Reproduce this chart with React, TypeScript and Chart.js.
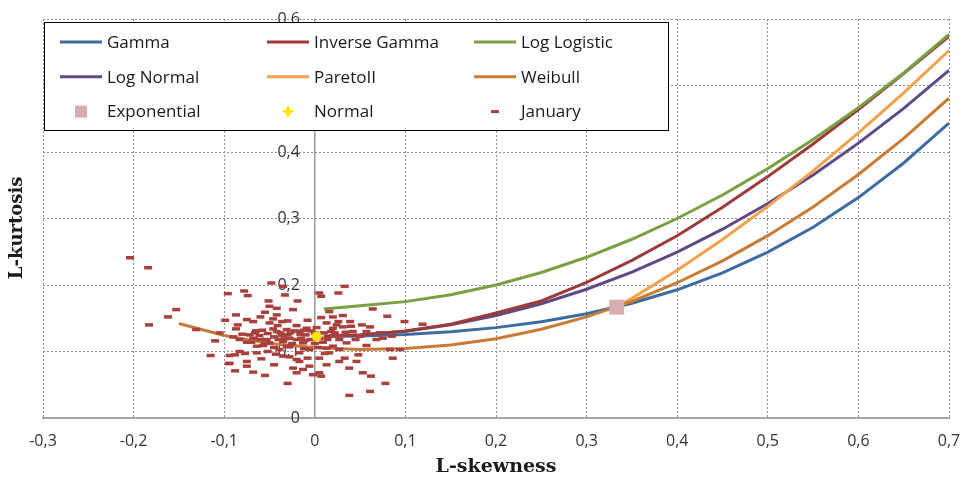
import React, { useEffect, useRef } from 'react';
import { Chart, registerables } from 'chart.js';

Chart.register(...registerables);

// ---------- data ----------
const X_TICK_LABELS = ['-0,3', '-0,2', '-0,1', '0', '0,1', '0,2', '0,3', '0,4', '0,5', '0,6', '0,7'];
const Y_TICK_LABELS = ['0', '0,1', '0,2', '0,3', '0,4', '0,5', '0,6'];

const CURVE_T3 = [0.01, 0.05, 0.1, 0.15, 0.2, 0.25, 0.3, 0.35, 0.4, 0.45, 0.5, 0.55, 0.6, 0.65, 0.7];
const GAMMA_T4 = [0.1225, 0.1232, 0.1255, 0.1297, 0.1359, 0.1448, 0.1567, 0.1726, 0.1928, 0.2182, 0.2494, 0.2869, 0.3314, 0.3835, 0.4436];
const INV_GAMMA_T4 = [0.1227, 0.125, 0.131, 0.141, 0.158, 0.176, 0.204, 0.237, 0.274, 0.317, 0.363, 0.412, 0.464, 0.518, 0.574];
const LOG_LOGISTIC_T4 = [0.164, 0.1688, 0.175, 0.1854, 0.2, 0.2188, 0.2417, 0.2688, 0.3, 0.3354, 0.375, 0.4188, 0.4667, 0.5188, 0.577];
const LOG_NORMAL_T4 = [0.1229, 0.1248, 0.1306, 0.1403, 0.154, 0.1718, 0.1936, 0.2194, 0.2495, 0.2839, 0.3226, 0.3655, 0.4133, 0.4656, 0.5227];

const PARETO_T3 = [0.3333, 0.35, 0.4, 0.45, 0.5, 0.55, 0.6, 0.65, 0.7];
const PARETO_T4 = [0.1667, 0.1799, 0.2222, 0.2683, 0.3182, 0.3716, 0.4286, 0.4889, 0.5526];

const WEIBULL_T3 = [-0.15, -0.1, -0.05, 0, 0.05, 0.1, 0.15, 0.2, 0.25, 0.3, 0.35, 0.4, 0.45, 0.5, 0.55, 0.6, 0.65, 0.7];
const WEIBULL_T4 = [0.142, 0.124, 0.112, 0.106, 0.103, 0.1045, 0.1097, 0.1193, 0.1334, 0.1521, 0.1754, 0.2034, 0.2363, 0.2742, 0.3174, 0.3661, 0.4204, 0.4809];

const EXPONENTIAL_T3 = [0.3333];
const EXPONENTIAL_T4 = [0.1667];
const NORMAL_T3 = [0.002];
const NORMAL_T4 = [0.1226];

const JANUARY_T3 = [
  -0.204, -0.184, -0.153, -0.162, -0.183, -0.131, -0.115,
  -0.096, -0.078, -0.074, -0.099, -0.087, -0.087, -0.085, -0.075, -0.068,
  -0.088, -0.094, -0.088, -0.075, -0.068, -0.055, -0.059, -0.075, -0.083,
  -0.083, -0.068, -0.061, -0.053, -0.064, -0.057, -0.05,
  -0.051, -0.05, -0.055, -0.042, -0.048, -0.035, -0.033, -0.019, -0.024,
  -0.036, -0.05, -0.042, -0.031, -0.02, -0.017, -0.009,
  -0.028, -0.02, -0.013, -0.031, -0.039, -0.017, -0.006,
  -0.028, -0.017, -0.008, -0.024, -0.013, -0.02, -0.006, -0.002, -0.03,
  0.007, 0.005, 0.013, 0.005, 0.016,
  0.005, 0.007, 0.026, 0.033, 0.016, 0.031, 0.026, 0.039, 0.013, 0.02, 0.031, 0.042, 0.061, 0.05, 0.02, 0.027, 0.035, 0.02, 0.027, 0.013, 0.027, 0.038, 0.048, 0.046, 0.057, 0.053, 0.062, 0.061, 0.038,
  0.064, 0.08, 0.099, 0.119, 0.078, 0.086, 0.085, 0.075, 0.094, 0.083,
  -0.045, -0.04, -0.035, -0.03, -0.025, -0.015, -0.01, -0.005, 0, -0.055, -0.06, -0.07, 0.005, 0.01, -0.012, -0.038, 0, 0.022, -0.028, -0.045, -0.075, -0.077, -0.094, -0.095, -0.065, 0.057, -0.042,
  -0.072, -0.066, -0.058, -0.052, -0.046, -0.041, -0.036, -0.033, -0.027, -0.022, -0.016, -0.011, -0.004, 0.002, 0.009, 0.014, 0.018, 0.024, 0.029, 0.034,
  0.04, 0.045, 0.052, -0.064, -0.052, -0.043, -0.035, -0.012, 0.004, 0.011, -0.08, -0.09, -0.105, -0.11, -0.046, -0.03, -0.008, 0.007, 0.02, -0.06,
  0.068, 0.072, 0.033, -0.02, -0.045
];
const JANUARY_T4 = [
  0.241, 0.226, 0.163, 0.152, 0.14, 0.133, 0.094,
  0.187, 0.191, 0.184, 0.147, 0.155, 0.134, 0.14, 0.148, 0.145,
  0.095, 0.082, 0.071, 0.078, 0.069, 0.064, 0.089, 0.085, 0.1,
  0.118, 0.12, 0.124, 0.118, 0.108, 0.109, 0.113,
  0.176, 0.168, 0.159, 0.165, 0.203, 0.198, 0.185, 0.176, 0.163,
  0.145, 0.143, 0.13, 0.133, 0.139, 0.13, 0.135,
  0.12, 0.118, 0.113, 0.108, 0.103, 0.098, 0.103,
  0.092, 0.085, 0.09, 0.075, 0.073, 0.068, 0.078, 0.065, 0.052,
  0.063, 0.068, 0.08, 0.09, 0.098,
  0.188, 0.183, 0.188, 0.198, 0.16, 0.154, 0.145, 0.145, 0.143, 0.135, 0.137, 0.13, 0.137, 0.123, 0.123, 0.118, 0.113, 0.108, 0.103, 0.105, 0.085, 0.075, 0.095, 0.085, 0.109, 0.068, 0.063, 0.04, 0.034,
  0.164, 0.153, 0.145, 0.141, 0.052, 0.09, 0.123, 0.12, 0.103, 0.103,
  0.122, 0.118, 0.115, 0.125, 0.112, 0.12, 0.125, 0.118, 0.112, 0.112, 0.118, 0.114, 0.12, 0.128, 0.132, 0.128, 0.128, 0.128, 0.107, 0.106, 0.114, 0.097, 0.094, 0.082, 0.131, 0.13, 0.155,
  0.125, 0.128, 0.132, 0.127, 0.134, 0.139, 0.124, 0.119, 0.128, 0.131, 0.126, 0.116, 0.131, 0.136, 0.114, 0.118, 0.13, 0.14, 0.124, 0.129,
  0.138, 0.118, 0.14, 0.098, 0.1, 0.096, 0.093, 0.104, 0.106, 0.097, 0.126, 0.122, 0.128, 0.116, 0.149, 0.146, 0.147, 0.151, 0.152, 0.152,
  0.118, 0.128, 0.09, 0.088, 0.08
];

const LEGEND_ORDER = ['Gamma', 'Inverse Gamma', 'Log Logistic', 'Log Normal', 'ParetoII', 'Weibull', 'Exponential', 'Normal', 'January'];

// ---------- styles ----------
const TICK_FONT = "'Open Sans', 'Liberation Sans', sans-serif";
const TITLE_FONT = "'DejaVu Serif', 'Liberation Serif', serif";
const GRID_COLOR = '#8f8f8f';
const AXIS_COLOR = '#9a9a9a';

const pts = (xs: number[], ys: number[]) => xs.map((x, i) => ({ x, y: ys[i] }));
const isZeroTick = (c: any) => !!(c && c.tick && Math.abs(c.tick.value) < 1e-9);

function lineSet(label: string, xs: number[], ys: number[], color: string, order: number) {
  return {
    label,
    data: pts(xs, ys),
    showLine: true,
    borderColor: color,
    backgroundColor: color,
    borderWidth: 3,
    pointRadius: 0,
    tension: 0,
    order,
  };
}

const legendPlugin = {
  id: 'boxLegend',
  afterDraw(chart: any) {
    const ctx = chart.ctx as CanvasRenderingContext2D;
    const { left, top } = chart.chartArea;
    const bx = left + 1;
    const by = top + 3;
    const bw = 624;
    const bh = 108;
    ctx.save();
    ctx.fillStyle = '#ffffff';
    ctx.fillRect(bx, by, bw, bh);
    ctx.strokeStyle = '#000000';
    ctx.lineWidth = 1;
    ctx.strokeRect(bx + 0.5, by + 0.5, bw, bh);
    ctx.font = `17px ${TICK_FONT}`;
    ctx.textBaseline = 'middle';
    ctx.textAlign = 'left';
    LEGEND_ORDER.forEach((name, i) => {
      const ds = chart.data.datasets.find((d: any) => d.label === name);
      if (!ds) return;
      const col = i % 3;
      const row = Math.floor(i / 3);
      const x0 = bx + 16 + col * 207;
      const cy = by + 20 + row * 34.8;
      const cx = x0 + 21;
      if (ds.showLine) {
        ctx.strokeStyle = ds.borderColor;
        ctx.lineWidth = 3;
        ctx.beginPath();
        ctx.moveTo(x0, cy);
        ctx.lineTo(x0 + 42, cy);
        ctx.stroke();
      } else if (ds.pointStyle === 'rect') {
        ctx.fillStyle = ds.backgroundColor;
        ctx.fillRect(cx - 6, cy - 6, 12, 12);
      } else if (ds.pointStyle === 'star') {
        ctx.fillStyle = ds.borderColor;
        ctx.beginPath();
        ctx.moveTo(cx, cy - 7);
        ctx.lineTo(cx + 2, cy - 2);
        ctx.lineTo(cx + 7, cy);
        ctx.lineTo(cx + 2, cy + 2);
        ctx.lineTo(cx, cy + 7);
        ctx.lineTo(cx - 2, cy + 2);
        ctx.lineTo(cx - 7, cy);
        ctx.lineTo(cx - 2, cy - 2);
        ctx.closePath();
        ctx.fill();
      } else {
        ctx.strokeStyle = ds.borderColor;
        ctx.lineWidth = 3;
        ctx.beginPath();
        ctx.moveTo(cx - 4, cy); ctx.lineTo(cx + 4, cy);
        ctx.stroke();
      }
      ctx.fillStyle = '#1a1a1a';
      ctx.fillText(name, x0 + 47, cy + 1);
    });
    ctx.restore();
  },
};

export default function App() {
  const ref = useRef<HTMLCanvasElement | null>(null);
  useEffect(() => {
    if (!ref.current) return;
    const datasets: any[] = [
      lineSet('Gamma', CURVE_T3, GAMMA_T4, '#3d6ca0', 9),
      lineSet('Inverse Gamma', CURVE_T3, INV_GAMMA_T4, '#9c3b3a', 7),
      lineSet('Log Logistic', CURVE_T3, LOG_LOGISTIC_T4, '#79a042', 6),
      lineSet('Log Normal', CURVE_T3, LOG_NORMAL_T4, '#5f4a87', 8),
      lineSet('ParetoII', PARETO_T3, PARETO_T4, '#f4a14e', 5),
      lineSet('Weibull', WEIBULL_T3, WEIBULL_T4, '#c97a35', 4),
      {
        label: 'Exponential',
        data: pts(EXPONENTIAL_T3, EXPONENTIAL_T4),
        showLine: false,
        pointStyle: 'rect',
        pointRadius: 10.5,
        backgroundColor: '#d8adad',
        borderColor: '#d8adad',
        borderWidth: 0,
        order: 2,
      },
      {
        label: 'Normal',
        data: pts(NORMAL_T3, NORMAL_T4),
        showLine: false,
        pointStyle: 'star',
        pointRadius: 5,
        backgroundColor: '#ffe600',
        borderColor: '#ffe600',
        borderWidth: 3,
        order: 0,
      },
      {
        label: 'January',
        data: pts(JANUARY_T3, JANUARY_T4),
        showLine: false,
        pointStyle: 'line',
        pointRadius: 4,
        backgroundColor: '#a8413d',
        borderColor: '#a8413d',
        borderWidth: 3.5,
        order: 1,
      },
    ];

    const chart = new Chart(ref.current, {
      type: 'scatter',
      data: { datasets },
      options: {
        responsive: false,
        animation: false,
        layout: { padding: { top: 19, right: 16, bottom: 0, left: 0 } },
        plugins: { legend: { display: false }, tooltip: { enabled: false } },
        scales: {
          x: {
            type: 'linear',
            position: 'bottom',
            min: -0.3,
            max: 0.7,
            ticks: {
              stepSize: 0.1,
              autoSkip: false,
              maxRotation: 0,
              padding: 14,
              color: '#333333',
              font: { family: TICK_FONT, size: 16 },
              callback: (_v: any, i: number) => X_TICK_LABELS[i],
            },
            grid: {
              color: (c: any) => (isZeroTick(c) ? AXIS_COLOR : GRID_COLOR),
              lineWidth: (c: any) => (isZeroTick(c) ? 1.5 : 1),
              drawTicks: false,
            },
            border: {
              display: true,
              color: '#a6a6a6',
              width: 2,
              dash: (c: any) => (isZeroTick(c) ? [] : [2, 2]),
            },
            title: {
              display: true,
              text: 'L-skewness',
              color: '#1a1a1a',
              font: { family: TITLE_FONT, size: 19, weight: 'bold' },
              padding: { top: 0, bottom: 1 },
            },
            afterFit: (s: any) => {
              s.height = 61;
              s.paddingLeft = 0;
              s.paddingRight = 0;
            },
          },
          y: {
            type: 'linear',
            position: 'left',
            min: 0,
            max: 0.6,
            ticks: { display: false, stepSize: 0.1 },
            grid: { color: GRID_COLOR, lineWidth: 1, drawTicks: false },
            border: { display: false, dash: [2, 2] },
            title: {
              display: true,
              text: 'L-kurtosis   ',
              color: '#1a1a1a',
              font: { family: TITLE_FONT, size: 18, weight: 'bold' },
              padding: { top: 7, bottom: 0 },
            },
            afterFit: (s: any) => {
              s.width = 43;
              s.paddingTop = 0;
              s.paddingBottom = 0;
            },
          },
          yLabels: {
            type: 'linear',
            position: { x: -0.0165 },
            min: 0,
            max: 0.6,
            z: 1,
            ticks: {
              stepSize: 0.1,
              padding: 0,
              color: '#333333',
              font: { family: TICK_FONT, size: 16 },
              callback: (_v: any, i: number) => Y_TICK_LABELS[i],
            },
            grid: { display: false, drawTicks: false },
            border: { display: false },
            afterFit: (s: any) => {
              s.paddingTop = 0;
              s.paddingBottom = 0;
              s.paddingLeft = 0;
              s.paddingRight = 0;
            },
          },
        } as any,
      },
      plugins: [legendPlugin],
    } as any);
    return () => chart.destroy();
  }, []);

  return (
    <div style={{ position: 'absolute', left: 0, top: 0, width: 965, height: 479, background: '#ffffff' }}>
      <canvas ref={ref} width={965} height={479} style={{ display: 'block' }} />
    </div>
  );
}
